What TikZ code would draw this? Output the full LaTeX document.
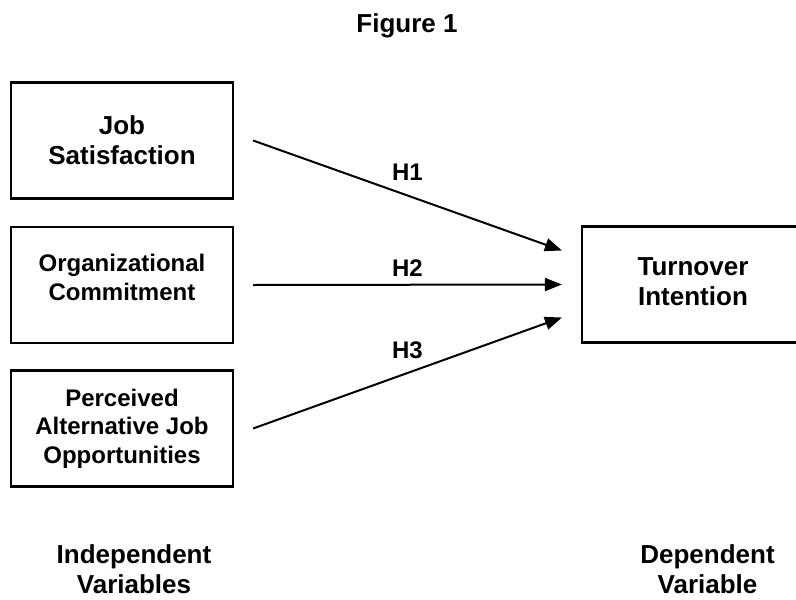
\documentclass[tikz,border=0pt]{standalone}
\usepackage{fontspec}
\setmainfont{Liberation Sans}
\usetikzlibrary{arrows.meta}

\tikzset{
  varbox/.style={draw, line width=2.2pt, minimum width=222pt, minimum height=116pt,
    align=center, inner sep=0pt},
  bigtxt/.style={font=\bfseries\fontsize{26}{30}\selectfont},
  smalltxt/.style={font=\bfseries\fontsize{24}{28.5}\selectfont},
  hyparrow/.style={line width=2pt, -{Triangle[length=17pt,width=13pt]}},
  hyplabel/.style={font=\bfseries\fontsize{24}{28}\selectfont, inner sep=0pt}
}

\begin{document}
\begin{tikzpicture}[x=1pt, y=-1pt]
    \useasboundingbox (0,0) rectangle (796,600);

    \node [bigtxt, anchor=base] (fig) at (407,32) {Figure 1};

    \node [varbox, bigtxt] (js) at (122,140.5) {Job\\Satisfaction};
    \node [varbox, smalltxt, text depth=15pt] (oc) at (122,285) {Organizational\\Commitment};
    \node [varbox, smalltxt] (pa) at (122,428.5) {Perceived\\Alternative Job\\Opportunities};

    \node [varbox, bigtxt, text depth=6pt] (ti) at (693,284.5) {Turnover\\Intention};

    \draw [hyparrow] ([xshift=19pt]js.east) -- ([xshift=-19pt,yshift=34pt]ti.west)
    node [hyplabel, midway, above=14.5pt] (h1) {H1};

    \draw [hyparrow] ([xshift=19pt]oc.east) -- ([xshift=-19pt]ti.west)
    node [hyplabel, midway, above=7pt] (h2) {H2};

    \draw [hyparrow] ([xshift=19pt]pa.east) -- ([xshift=-19pt,yshift=-33pt]ti.west)
    node [hyplabel, midway, above=13.5pt] (h3) {H3};

    \node [bigtxt, align=center, anchor=base] (iv) at (134,593) {Independent\\Variables};
    \node [bigtxt, align=center, anchor=base] (dv) at (707.5,593) {Dependent\\Variable};

  \end{tikzpicture}
\end{document}
